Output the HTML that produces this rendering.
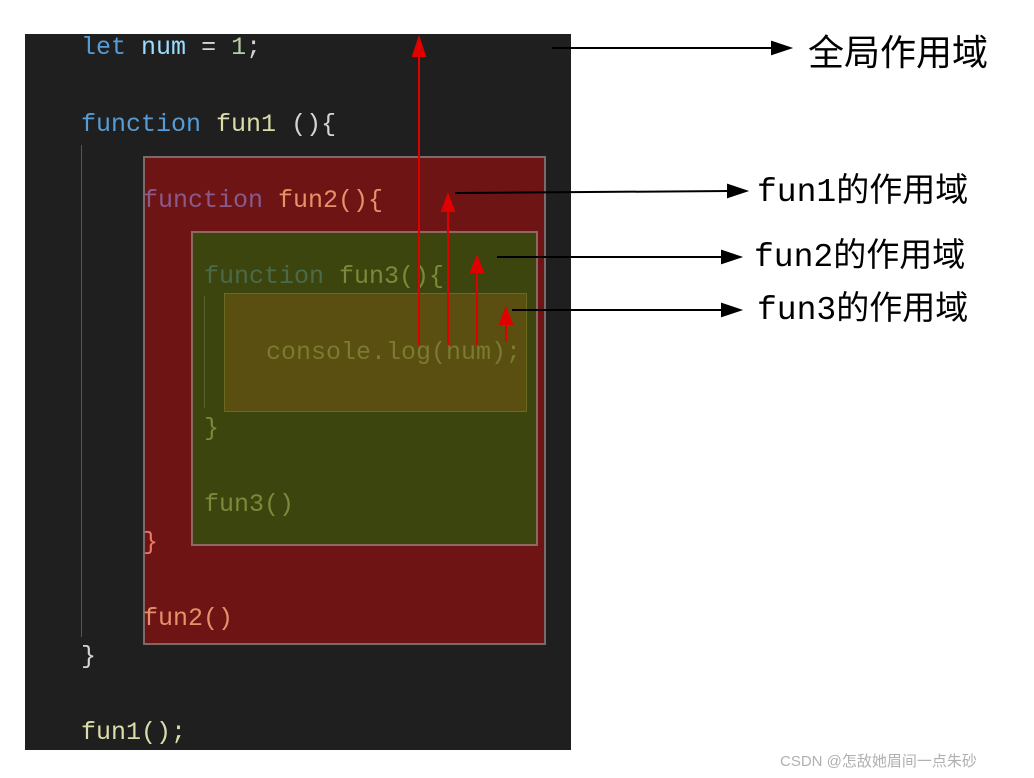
<!DOCTYPE html>
<html><head><meta charset="utf-8"><style>
body{margin:0;background:#fff;width:1034px;height:778px;position:relative;overflow:hidden}
.p{position:absolute;left:25px;top:34px;width:546px;height:716px;background:#1f1f1f}
.b{position:absolute;box-sizing:border-box}
.t{position:absolute;font-family:"Liberation Mono",monospace;font-size:25px;line-height:30px;white-space:pre}
.l{position:absolute;font-family:"Liberation Mono","Noto Sans CJK SC",monospace;font-size:33px;color:#000;white-space:pre;line-height:40px}
</style></head><body>
<div class="p"></div>
<div class="b" style="left:81px;top:145px;width:1px;height:492px;background:#555"></div>
<div class="b" style="left:143px;top:156px;width:403px;height:489px;background:#6e1414;border:2px solid #7a6a6a"></div>
<div class="b" style="left:191px;top:231px;width:347px;height:315px;background:#3c450e;border:2px solid #8a6a60"></div>
<div class="b" style="left:224px;top:293px;width:303px;height:119px;background:#5a4e10;border:1px solid #6a6a20"></div>
<div class="b" style="left:204px;top:296px;width:1px;height:112px;background:#5a6030"></div>

<div class="t" style="left:81px;top:33px"><span style="color:#569cd6">let</span> <span style="color:#9cdcfe">num</span> <span style="color:#d4d4d4">=</span> <span style="color:#b5cea8">1</span><span style="color:#d4d4d4">;</span></div>
<div class="t" style="left:81px;top:110px"><span style="color:#569cd6">function</span> <span style="color:#dcdcaa">fun1</span> <span style="color:#d4d4d4">(){</span></div>
<div class="t" style="left:143px;top:186px"><span style="color:#8a5a8a">function</span> <span style="color:#e8906a">fun2(){</span></div>
<div class="t" style="left:204px;top:262px"><span style="color:#4a6a4a">function</span> <span style="color:#7a8a3a">fun3(){</span></div>
<div class="t" style="left:266px;top:338px;color:#7a7a30">console.log(num);</div>
<div class="t" style="left:204px;top:414px;color:#7a8a3a">}</div>
<div class="t" style="left:204px;top:490px;color:#7a8a3a">fun3()</div>
<div class="t" style="left:143px;top:528px;color:#e87a6a">}</div>
<div class="t" style="left:143px;top:604px;color:#e8906a">fun2()</div>
<div class="t" style="left:81px;top:642px;color:#d4d4d4">}</div>
<div class="t" style="left:81px;top:718px;color:#dcdcaa">fun1();</div>

<svg width="1034" height="778" style="position:absolute;left:0;top:0">
<g stroke="#e00000" stroke-width="2" fill="#e00000">
<line x1="419" y1="345" x2="419" y2="52"/><polygon points="413,56 425,56 419,38"/>
<line x1="448" y1="345" x2="448" y2="208"/><polygon points="442,211 454,211 448,195"/>
<line x1="477" y1="345" x2="477" y2="270"/><polygon points="471,272 483,272 477,257"/>
<line x1="506" y1="342" x2="506" y2="322"/><polygon points="500,324 512,324 506,309"/>
</g>
<g stroke="#000" stroke-width="2" fill="#000">
<line x1="552" y1="48" x2="775" y2="48"/><polygon points="772,42 790,48 772,54"/>
<line x1="455" y1="193" x2="730" y2="191"/><polygon points="728,185 746,191 728,197"/>
<line x1="497" y1="257" x2="725" y2="257"/><polygon points="722,251 740,257 722,263"/>
<line x1="512" y1="310" x2="725" y2="310"/><polygon points="722,304 740,310 722,316"/>
</g>
</svg>
<div class="l" style="left:808px;top:30px;font-family:'Noto Sans CJK SC',sans-serif;font-size:36px;line-height:40px">全局作用域</div>
<div class="l" style="left:757px;top:173px">fun1的作用域</div>
<div class="l" style="left:754px;top:238px">fun2的作用域</div>
<div class="l" style="left:757px;top:291px">fun3的作用域</div>
<div style="position:absolute;left:780px;top:750px;font-family:'Liberation Sans','Noto Sans CJK SC',sans-serif;font-size:15px;color:#b0b0b0">CSDN @怎敌她眉间一点朱砂</div>
</body></html>
